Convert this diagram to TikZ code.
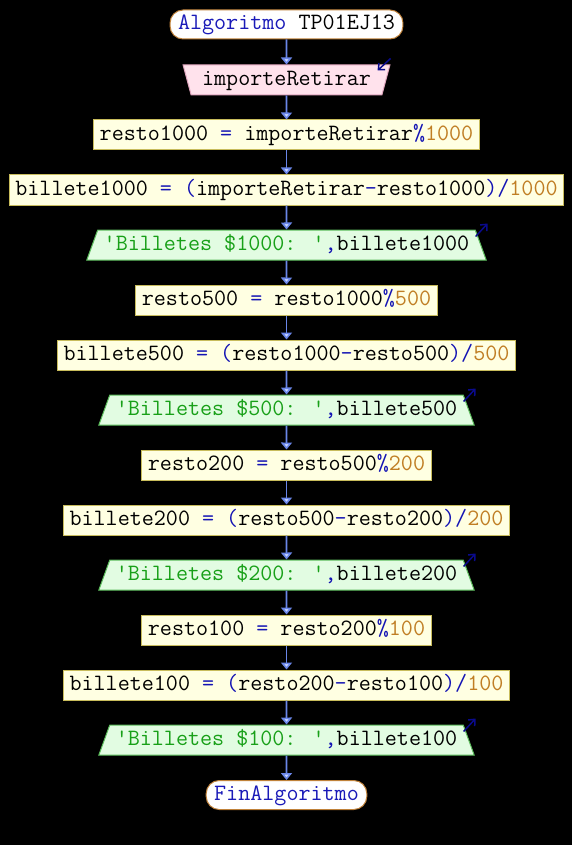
\documentclass[tikz,border=0pt]{standalone}
\usepackage{fontspec}
\usepackage{tikz}
\usetikzlibrary{arrows.meta,shapes.geometric}
\definecolor{linea}{HTML}{6A86E8}
\definecolor{puntaf}{HTML}{C8D6FF}
\definecolor{kwc}{HTML}{1A1AB8}
\definecolor{opc}{HTML}{1414B4}
\definecolor{numc}{HTML}{C07E24}
\definecolor{strc}{HTML}{18A018}
\definecolor{iconc}{HTML}{0A0A8C}
\definecolor{procfill}{HTML}{FFFFE2}
\definecolor{procdraw}{HTML}{C8BC5C}
\definecolor{outfill}{HTML}{E2FCE2}
\definecolor{outdraw}{HTML}{5CBC5C}
\definecolor{infill}{HTML}{FFE2EC}
\definecolor{indraw}{HTML}{E0A6BE}
\definecolor{termdraw}{HTML}{C0823A}
\newcommand{\kw}[1]{\textcolor{kwc}{#1}}
\newcommand{\op}[1]{\textcolor{opc}{#1}}
\newcommand{\nm}[1]{\textcolor{numc}{#1}}
\newcommand{\st}[1]{\textcolor{strc}{#1}}
\begin{document}
\begin{tikzpicture}[x=1pt,y=-1pt]
        \tikzset{base/.style = {font=\ttfamily\fontsize{23.4}{27}\selectfont,line width=1pt,text height=16pt,text depth=5pt,inner ysep=4.5pt}}
        \tikzset{term/.style = {base,shape=rectangle,rounded corners=13pt,draw=termdraw,fill=white,inner xsep=8pt,inner ysep=4pt}}
        \tikzset{proc/.style = {base,shape=rectangle,draw=procdraw,fill=procfill,inner xsep=6pt}}
        \tikzset{procin/.style = {base,shape=trapezium,trapezium stretches body,trapezium left angle=105,trapezium right angle=105,draw=indraw,fill=infill,inner xsep=11pt}}
        \tikzset{procout/.style = {base,shape=trapezium,trapezium stretches body,trapezium left angle=70,trapezium right angle=70,draw=outdraw,fill=outfill,inner xsep=6pt}}
        \tikzset{flow/.style = {-{Triangle[width=11pt,length=7pt,fill=puntaf]},line width=1.6pt,draw=linea}}
        \tikzset{icon/.style = {-{Straight Barb[length=5pt,width=9pt]},line width=1.5pt,draw=iconc}}
        % fondo
        \fill[black] (0,0) rectangle (572,845);
        \useasboundingbox (0,0) rectangle (572,845);
        % nodos
        \node[term] (1) at (286.5,24.5) {\kw{Algoritmo} TP01EJ13};
        \node[procin] (2) at (286.5,80) {importeRetirar};
        \node[proc] (3) at (286.5,135) {resto1000 \op{=} importeRetirar\op{\%}\nm{1000}};
        \node[proc] (4) at (286.5,190) {billete1000 \op{=} \op{(}importeRetirar\op{-}resto1000\op{)/}\nm{1000}};
        \node[procout] (5) at (286.5,245) {\st{'Billetes \$1000: '}\op{,}billete1000};
        \node[proc] (6) at (286.5,300) {resto500 \op{=} resto1000\op{\%}\nm{500}};
        \node[proc] (7) at (286.5,355) {billete500 \op{=} \op{(}resto1000\op{-}resto500\op{)/}\nm{500}};
        \node[procout] (8) at (286.5,410) {\st{'Billetes \$500: '}\op{,}billete500};
        \node[proc] (9) at (286.5,465) {resto200 \op{=} resto500\op{\%}\nm{200}};
        \node[proc] (10) at (286.5,520) {billete200 \op{=} \op{(}resto500\op{-}resto200\op{)/}\nm{200}};
        \node[procout] (11) at (286.5,575) {\st{'Billetes \$200: '}\op{,}billete200};
        \node[proc] (12) at (286.5,630) {resto100 \op{=} resto200\op{\%}\nm{100}};
        \node[proc] (13) at (286.5,685) {billete100 \op{=} \op{(}resto200\op{-}resto100\op{)/}\nm{100}};
        \node[procout] (14) at (286.5,740) {\st{'Billetes \$100: '}\op{,}billete100};
        \node[term] (15) at (286.5,795) {\kw{FinAlgoritmo}};

        % flechas
        \foreach \a/\b in {1/2,2/3,3/4,4/5,5/6,6/7,7/8,8/9,9/10,10/11,11/12,12/13,13/14,14/15}
          \draw[flow] (\a.south) -- (\b.north);

        % iconos de lectura y escritura
        \draw[icon] ([yshift=6pt]2.top right corner) -- ([xshift=-13pt,yshift=-6pt]2.top right corner);
        \foreach \n in {5,8,11,14}
          \draw[icon] ([yshift=-7pt]\n.top right corner) -- ([xshift=12pt,yshift=6pt]\n.top right corner);
\end{tikzpicture}
\end{document}
